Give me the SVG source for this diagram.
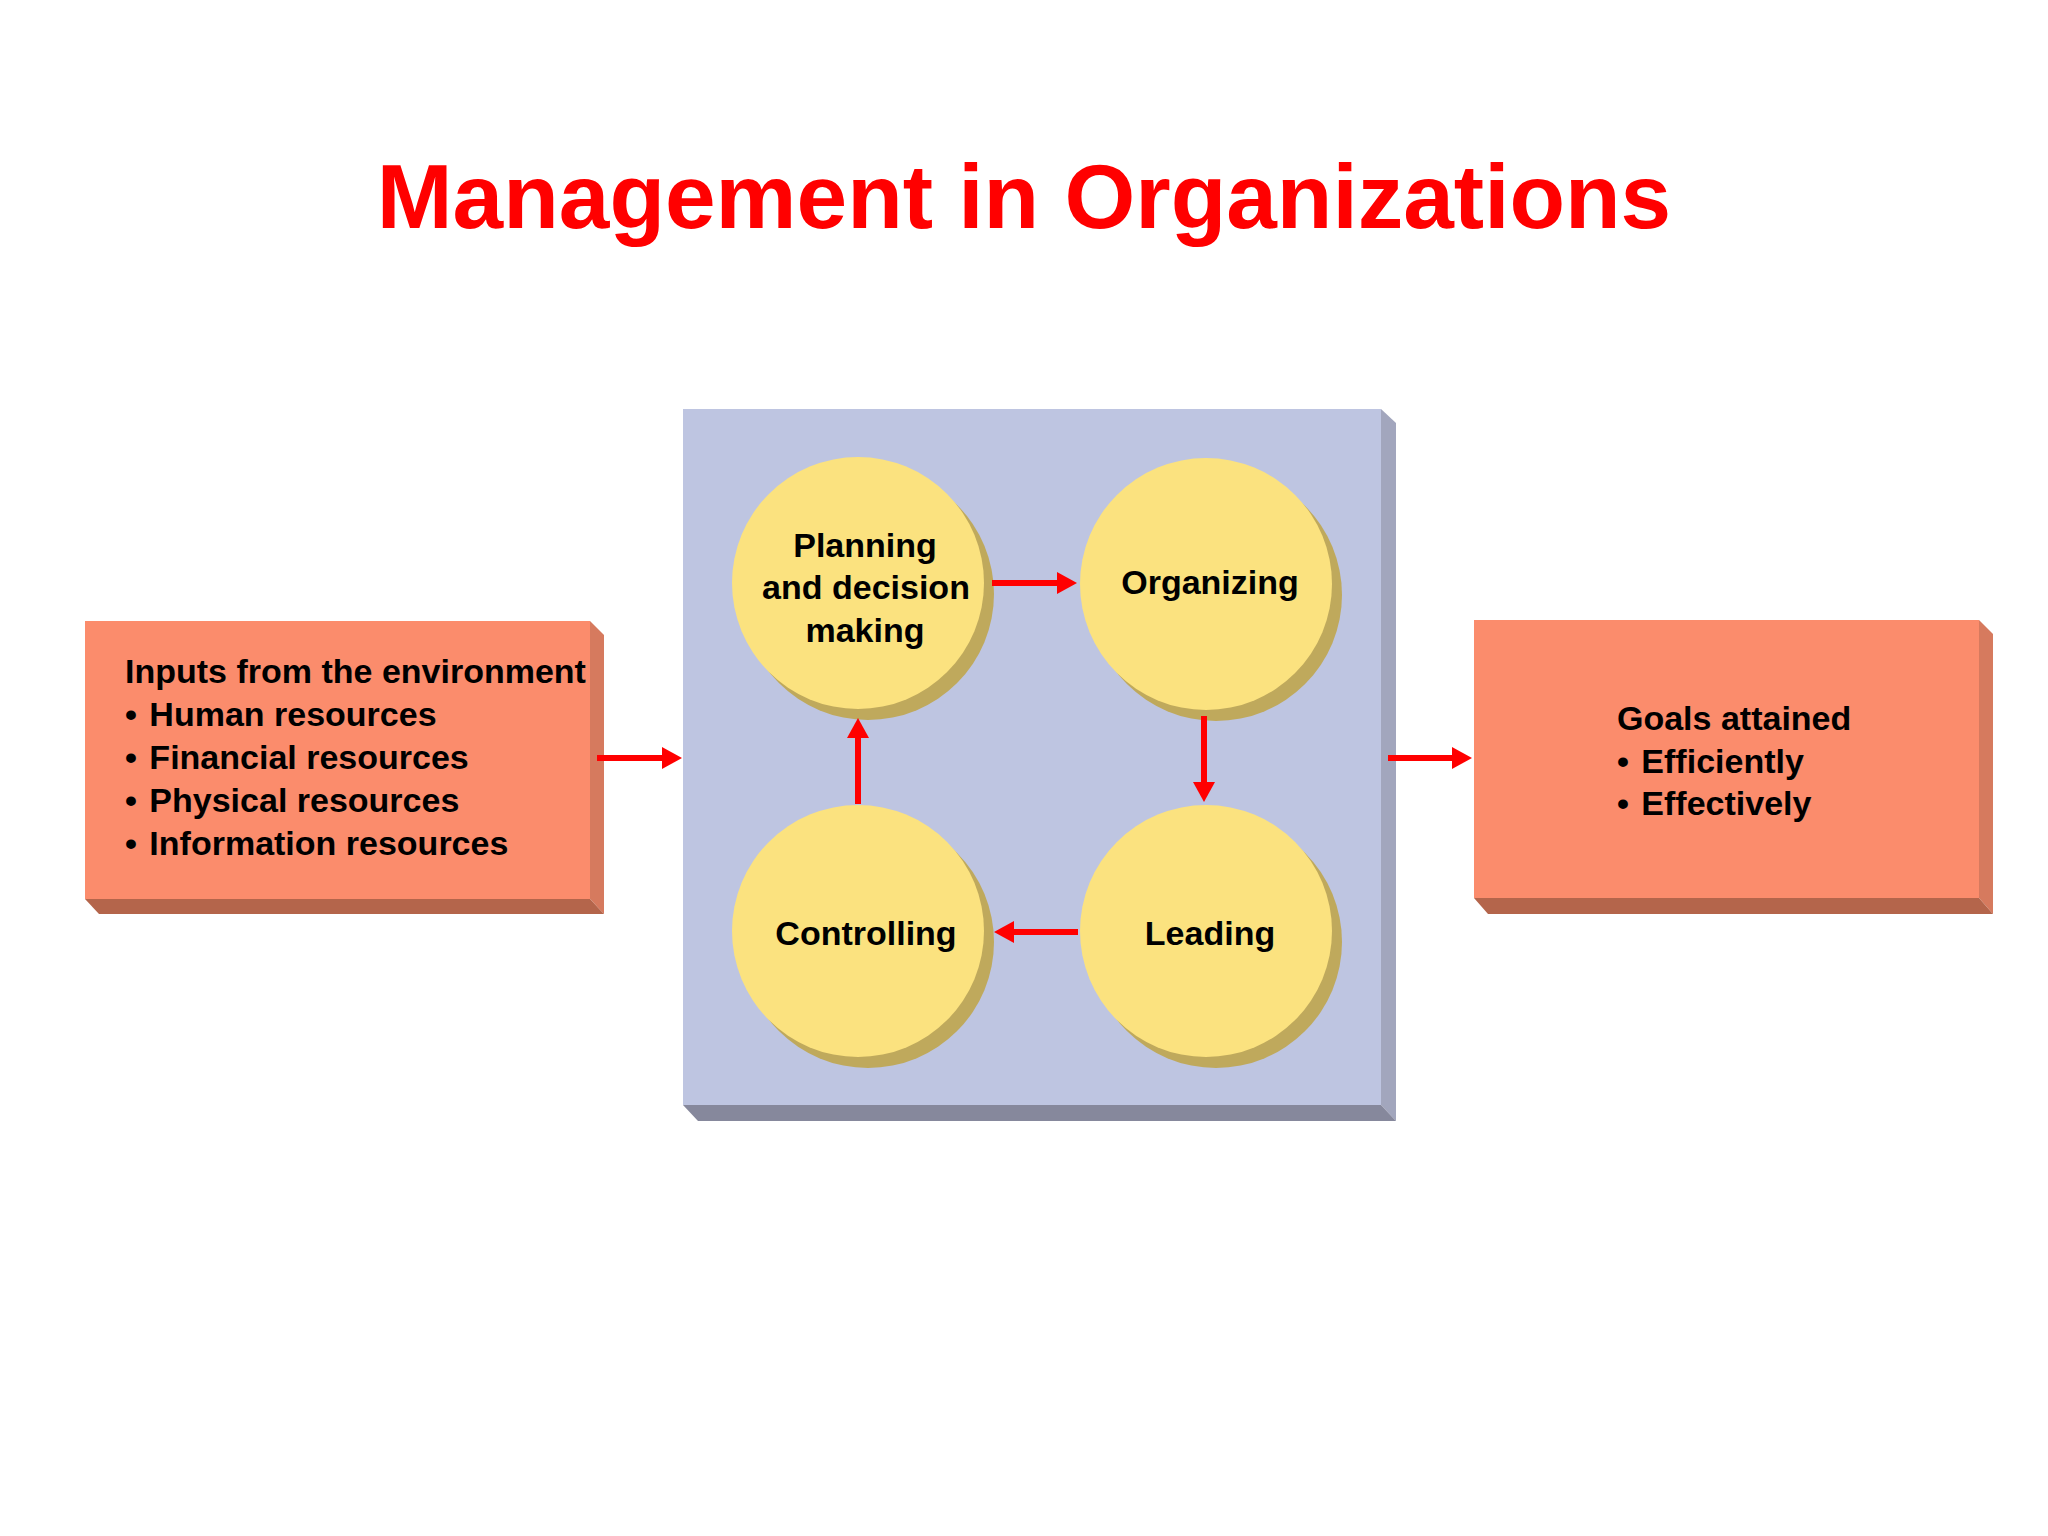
<svg xmlns="http://www.w3.org/2000/svg" width="2048" height="1536" viewBox="0 0 2048 1536">
  <defs>
    <style>
      .t{font-family:"Liberation Sans",Arial,sans-serif;font-weight:bold;fill:#000;font-size:34px}
      .title{font-family:"Liberation Sans",Arial,sans-serif;font-weight:bold;fill:#ff0000;font-size:91px}
      .boxf{fill:#fb8c6c}
      .boxs{fill:#d67a5e}
      .boxb{fill:#b4654b}
      .panf{fill:#bec5e1}
      .pans{fill:#a2a6bd}
      .panb{fill:#86889c}
      .disc{fill:#fbe27f}
      .discs{fill:#bfa95c}
      .conn{stroke:#ff0000;stroke-width:6;fill:none;marker-end:url(#ah)}
    </style>
    <marker id="ah" markerUnits="userSpaceOnUse" markerWidth="22" markerHeight="24" refX="1" refY="11" orient="auto">
      <path d="M0,0 L20,11 L0,22 z" fill="#ff0000"/>
    </marker>
  </defs>
  <rect width="2048" height="1536" fill="#ffffff"/>

  <text class="title" x="1024" y="228" text-anchor="middle">Management in Organizations</text>

  <g id="inputs">
    <rect class="boxf" x="85" y="621" width="505" height="278"/>
    <polygon class="boxs" points="590,621 604,635 604,914 590,899"/>
    <polygon class="boxb" points="85,899 590,899 604,914 99,914"/>
    <text class="t" x="125" y="683">Inputs from the environment</text>
    <text class="t" x="125" y="726">• <tspan dx="3">Human resources</tspan></text>
    <text class="t" x="125" y="769">• <tspan dx="3">Financial resources</tspan></text>
    <text class="t" x="125" y="812">• <tspan dx="3">Physical resources</tspan></text>
    <text class="t" x="125" y="855">• <tspan dx="3">Information resources</tspan></text>
  </g>

  <g id="management">
    <rect class="panf" x="683" y="409" width="698" height="696"/>
    <polygon class="pans" points="1381,409 1396,423 1396,1121 1381,1105"/>
    <polygon class="panb" points="683,1105 1381,1105 1396,1121 698,1121"/>
  </g>

  <g id="planning">
    <circle class="discs" cx="868" cy="594" r="126"/>
    <circle class="disc" cx="858" cy="583" r="126"/>
    <text class="t" x="865" y="557" text-anchor="middle">Planning</text>
    <text class="t" x="866" y="599" text-anchor="middle">and decision</text>
    <text class="t" x="865" y="642" text-anchor="middle">making</text>
  </g>

  <g id="organizing">
    <circle class="discs" cx="1216" cy="595" r="126"/>
    <circle class="disc" cx="1206" cy="584" r="126"/>
    <text class="t" x="1210" y="594" text-anchor="middle">Organizing</text>
  </g>

  <g id="leading">
    <circle class="discs" cx="1216" cy="942" r="126"/>
    <circle class="disc" cx="1206" cy="931" r="126"/>
    <text class="t" x="1210" y="945" text-anchor="middle">Leading</text>
  </g>

  <g id="controlling">
    <circle class="discs" cx="868" cy="942" r="126"/>
    <circle class="disc" cx="858" cy="931" r="126"/>
    <text class="t" x="866" y="945" text-anchor="middle">Controlling</text>
  </g>

  <g id="goals">
    <rect class="boxf" x="1474" y="620" width="505" height="278"/>
    <polygon class="boxs" points="1979,620 1993,634 1993,914 1979,898"/>
    <polygon class="boxb" points="1474,898 1979,898 1993,914 1488,914"/>
    <text class="t" x="1617" y="730">Goals attained</text>
    <text class="t" x="1617" y="773">• <tspan dx="3">Efficiently</tspan></text>
    <text class="t" x="1617" y="815">• <tspan dx="3">Effectively</tspan></text>
  </g>

  <g id="connectors">
    <path class="conn" d="M597,758 H663"/>
    <path class="conn" d="M1388,758 H1453"/>
    <path class="conn" d="M992,583 H1058"/>
    <path class="conn" d="M1204,716 V783"/>
    <path class="conn" d="M1078,932 H1013"/>
    <path class="conn" d="M858,804 V737"/>
  </g>
</svg>
